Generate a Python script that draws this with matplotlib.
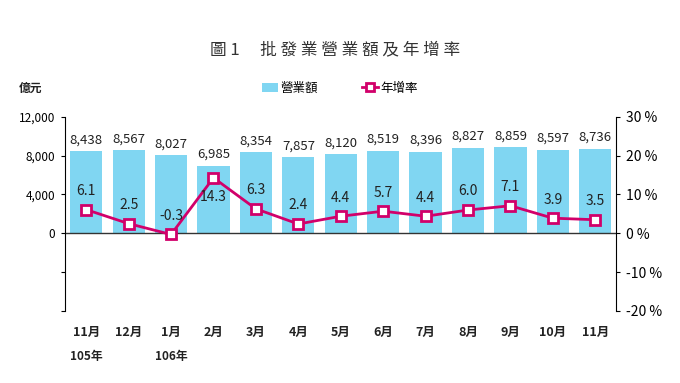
import matplotlib.pyplot as plt
import numpy as np
from matplotlib.lines import Line2D
from matplotlib.patches import Patch

plt.rcParams['font.family'] = ['Noto Sans CJK TC', 'DejaVu Sans']

mois = ['11月', '12月', '1月', '2月', '3月', '4月', '5月', '6月', '7月', '8月', '9月', '10月', '11月']
annees = {0: '105年', 2: '106年'}
montant = [8438, 8567, 8027, 6985, 8354, 7857, 8120, 8519, 8396, 8827, 8859, 8597, 8736]
taux = [6.1, 2.5, -0.3, 14.3, 6.3, 2.4, 4.4, 5.7, 4.4, 6.0, 7.1, 3.9, 3.5]

bleu = '#80d6f2'
rose = '#d1006a'

fig = plt.figure(figsize=(6.8, 3.83), dpi=100)
ax = fig.add_axes([0.0956, 0.188, 0.811, 0.507])
ax2 = ax.twinx()

x = np.arange(len(mois))
ax.bar(x, montant, width=0.76, color=bleu, zorder=1)
ax.axhline(0, color='#333333', lw=1, zorder=2)
ax.set_ylim(-8000, 12000)
ax.set_xlim(-0.5, len(mois) - 0.5)
ax.set_yticks([-8000, -4000, 0, 4000, 8000, 12000])
ax.set_yticklabels(['', '', '0', '4,000', '8,000', '12,000'])
ax.set_xticks([])
for s in ['top', 'bottom', 'right']:
    ax.spines[s].set_visible(False)
ax.tick_params(axis='y', length=3, labelsize=8.5, pad=4)

for i, v in enumerate(montant):
    ax.text(i, v + 500, f'{v:,}', ha='center', va='bottom', fontsize=9.5, color='#222222')

ax2.plot(x, taux, color=rose, lw=2, marker='s', markersize=7,
         markerfacecolor='white', markeredgecolor=rose, markeredgewidth=2, zorder=3)
ax2.set_ylim(-20, 30)
ax2.set_yticks([-20, -10, 0, 10, 20, 30])
ax2.set_yticklabels(['-20 %', '-10 %', '0 %', '10 %', '20 %', '30 %'])
for s in ['top', 'bottom', 'left']:
    ax2.spines[s].set_visible(False)
ax2.tick_params(axis='y', length=3, labelsize=10, pad=4)

for i, v in enumerate(taux):
    if i == 3:
        ax2.text(i, v - 3.2, f'{v:.1f}', ha='center', va='top', fontsize=10, color='#222222')
    else:
        ax2.text(i, v + 3.0, f'{v:.1f}', ha='center', va='bottom', fontsize=10, color='#222222')

# etiquettes de l'axe x
for i, m in enumerate(mois):
    ax.text(i, -10200, m, ha='center', va='center', fontsize=9, fontweight='bold', color='#222222')
for i, a in annees.items():
    ax.text(i, -12700, a, ha='center', va='center', fontsize=8.5, fontweight='bold', color='#222222')

titre = '圖 1　 ' + ' '.join('批發業營業額及年增率')
fig.text(0.493, 0.869, titre, ha='center', va='center', fontsize=12,
         fontweight='medium', color='#333333')
fig.text(0.045, 0.77, '億元', ha='center', va='center', fontsize=8.5, fontweight='bold', color='#222222')

handles = [Patch(facecolor=bleu, edgecolor='none'),
           Line2D([0], [0], color=rose, lw=2, marker='s', markersize=6,
                  markerfacecolor='white', markeredgecolor=rose, markeredgewidth=2)]
fig.legend(handles, ['營業額', '年增率'], loc='center', bbox_to_anchor=(0.5, 0.77), ncol=2,
           frameon=False, fontsize=9, handlelength=1.3, handletextpad=0.2, columnspacing=3.5)

fig.savefig('out.png', dpi=100)
